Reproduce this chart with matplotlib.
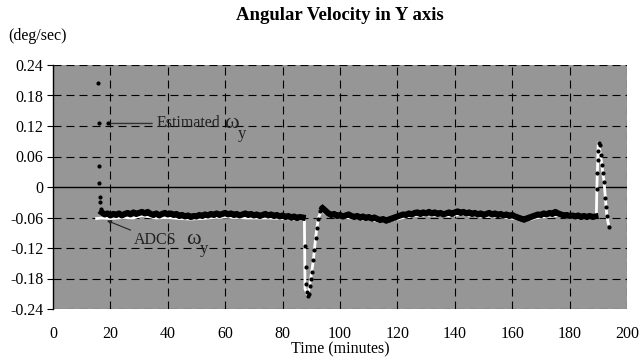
import matplotlib
matplotlib.use("Agg")
import matplotlib.pyplot as plt
import numpy as np

plt.rcParams['font.family'] = ['Liberation Serif', 'DejaVu Serif']

# --- data ---
# estimated omega_y : first samples after start
start_t = [15.8, 15.9, 16.0, 16.1, 16.3, 16.4, 16.6]
start_v = [0.204, 0.125, 0.041, 0.008, -0.019, -0.029, -0.044]

# estimated omega_y : steady part 1 (one sample per minute, 17..87)
band1_t = np.arange(17, 88)
band1_v = [-0.050, -0.054, -0.052, -0.056, -0.053, -0.055, -0.052, -0.056, -0.053, -0.051,
           -0.054, -0.050, -0.053, -0.051, -0.049, -0.052, -0.049, -0.053, -0.055, -0.052,
           -0.056, -0.053, -0.051, -0.054, -0.052, -0.055, -0.053, -0.057, -0.055, -0.058,
           -0.056, -0.059, -0.057, -0.058, -0.055, -0.057, -0.054, -0.056, -0.053, -0.055,
           -0.052, -0.055, -0.053, -0.051, -0.054, -0.052, -0.055, -0.053, -0.056, -0.054,
           -0.052, -0.055, -0.053, -0.056, -0.054, -0.057, -0.055, -0.053, -0.056, -0.054,
           -0.057, -0.055, -0.058, -0.056, -0.059, -0.057, -0.060, -0.058, -0.061, -0.059,
           -0.060]

# estimated omega_y : the dip near 88 min
dip_t = [87.8, 88.1, 88.3, 88.5, 88.8, 89.2, 89.5, 89.8, 90.1, 90.7, 91.0, 91.5, 91.9, 92.4, 93.0, 93.5]
dip_v = [-0.117, -0.157, -0.190, -0.207, -0.215, -0.210, -0.195, -0.180, -0.168, -0.144,
         -0.124, -0.101, -0.081, -0.062, -0.048, -0.040]

# estimated omega_y : steady part 2 (94..189)
band2_t = np.arange(94, 190)
band2_v = [-0.042, -0.047, -0.052, -0.055, -0.053, -0.057, -0.055, -0.058, -0.056, -0.054,
           -0.057, -0.059, -0.057, -0.060, -0.058, -0.061, -0.059, -0.062, -0.060, -0.063,
           -0.065, -0.063, -0.066, -0.064, -0.062, -0.060, -0.058, -0.056, -0.054, -0.055,
           -0.052, -0.054, -0.051, -0.050, -0.053, -0.050, -0.052, -0.049, -0.052, -0.050,
           -0.053, -0.051, -0.054, -0.052, -0.050, -0.053, -0.050, -0.048, -0.051, -0.049,
           -0.052, -0.050, -0.053, -0.051, -0.054, -0.052, -0.055, -0.053, -0.051, -0.054,
           -0.052, -0.055, -0.053, -0.056, -0.054, -0.057, -0.055, -0.058, -0.060, -0.062,
           -0.064, -0.062, -0.060, -0.058, -0.056, -0.054, -0.055, -0.052, -0.054, -0.051,
           -0.053, -0.049, -0.052, -0.054, -0.056, -0.055, -0.057, -0.056, -0.058, -0.056,
           -0.059, -0.057, -0.059, -0.057, -0.059, -0.058]

# estimated omega_y : the peak near 190 min
peak_t = [189.4, 189.6, 189.8, 189.9, 190.1, 190.5, 190.8, 191.2, 191.6, 192.0, 192.3, 192.6, 193.0, 193.6]
peak_v = [-0.003, 0.027, 0.053, 0.070, 0.086, 0.083, 0.063, 0.043, 0.027, 0.010,
          -0.022, -0.039, -0.058, -0.078]

# ADCS omega_y
adcs_t = [15.2, 17, 20, 25, 28, 31, 33, 36, 40, 44,
          48, 52, 56, 60, 64, 68, 72, 76, 80, 84,
          87.6, 87.8, 88.8, 89.8, 90.7, 91.5, 92.4, 93.5, 95, 98,
          102, 106, 110, 114, 118, 122, 126, 130, 134, 138,
          142, 146, 150, 154, 158, 162, 165, 168, 172, 176,
          180, 184, 189.3, 189.5, 190.0, 190.8, 192.0, 193.0, 193.5]
adcs_v = [-0.062, -0.061, -0.062, -0.060, -0.061, -0.056, -0.058, -0.061, -0.060, -0.062,
          -0.063, -0.062, -0.060, -0.059, -0.060, -0.061, -0.061, -0.061, -0.062, -0.063,
          -0.064, -0.200, -0.214, -0.180, -0.145, -0.100, -0.062, -0.046, -0.052, -0.058,
          -0.060, -0.062, -0.064, -0.068, -0.066, -0.060, -0.056, -0.055, -0.056, -0.057,
          -0.054, -0.056, -0.058, -0.057, -0.060, -0.063, -0.066, -0.061, -0.058, -0.056,
          -0.060, -0.061, -0.062, 0.000, 0.087, 0.063, 0.010, -0.058, -0.072]

x_ticks = [0, 20, 40, 60, 80, 100, 120, 140, 160, 180, 200]
y_ticks = [-0.24, -0.18, -0.12, -0.06, 0, 0.06, 0.12, 0.18, 0.24]
y_labels = ['-0.24', '-0.18', '-0.12', '-0.06', '0', '0.06', '0.12', '0.18', '0.24']

# --- figure ---
fig = plt.figure(figsize=(6.43, 3.63), dpi=100)
ax = fig.add_axes([53/643, 1 - 309/363, 574/643, 244/363])
ax.set_facecolor('#969696')

ax.set_xlim(0, 200)
ax.set_ylim(-0.24, 0.24)

# dashed grid, solid zero line
dash = (7.2, 4.5)
for yv in y_ticks:
    if yv == 0:
        ax.axhline(0, color='black', lw=1.0, zorder=1)
    else:
        ax.axhline(yv, color='black', lw=0.8, dashes=dash, zorder=1)
for xv in x_ticks[1:]:
    ax.axvline(xv, color='black', lw=0.8, dashes=dash, zorder=1)

for s in ['top', 'right', 'bottom']:
    ax.spines[s].set_visible(False)
ax.spines['left'].set_linewidth(1.0)

# ADCS (white line)
ax.plot(adcs_t, adcs_v, color='white', lw=2.0, zorder=2)

# estimated (black dots, dense where sampling is continuous)
ax.plot(band1_t, band1_v, color='black', lw=4.4, zorder=3)
ax.plot(band2_t, band2_v, color='black', lw=4.4, zorder=3)
for tt, vv in [(start_t, start_v), (band1_t, band1_v), (dip_t, dip_v),
               (band2_t, band2_v), (peak_t, peak_v)]:
    ax.plot(tt, vv, 'o', color='black', ms=3.0, mew=0, zorder=4)

# ticks
ax.set_xticks(x_ticks)
ax.set_yticks(y_ticks)
ax.set_yticklabels(y_labels)
ax.tick_params(axis='y', direction='out', length=4, width=0.8, labelsize=11.5, pad=3)
ax.tick_params(axis='x', length=0, labelsize=11.5, pad=12)
ax.set_xlabel('Time (minutes)', fontsize=11.5, labelpad=0)

# titles
fig.text(340/643, 1 - 16/363, 'Angular Velocity in Y axis', ha='center', va='center',
         fontsize=13.5, fontweight='bold')
fig.text(8/643, 1 - 36/363, '(deg/sec)', ha='left', va='center', fontsize=11.5)

# annotations
ax.annotate('Estimated', xy=(19.2, 0.125), xytext=(36.0, 0.125), ha='left', va='center',
            fontsize=11.5, color='#222222',
            arrowprops=dict(arrowstyle='-', color='#333333', lw=1.0, shrinkA=1, shrinkB=0))
ax.plot([19.2], [0.125], 'o', color='black', ms=3.0, mew=0, zorder=5)
ax.text(59.5, 0.124, 'ω', ha='left', va='center', fontsize=16, color='#222222')
ax.text(64.3, 0.105, 'y', ha='left', va='center', fontsize=12, color='#222222')

ax.annotate('ADCS', xy=(18.8, -0.066), xytext=(28.0, -0.104), ha='left', va='center',
            fontsize=11.5, color='#222222',
            arrowprops=dict(arrowstyle='-|>', color='#222222', lw=0.8, shrinkA=0, shrinkB=0,
                            mutation_scale=6))
ax.text(46.5, -0.103, 'ω', ha='left', va='center', fontsize=16, color='#222222')
ax.text(51.3, -0.122, 'y', ha='left', va='center', fontsize=12, color='#222222')

fig.savefig('out.png', dpi=100)
